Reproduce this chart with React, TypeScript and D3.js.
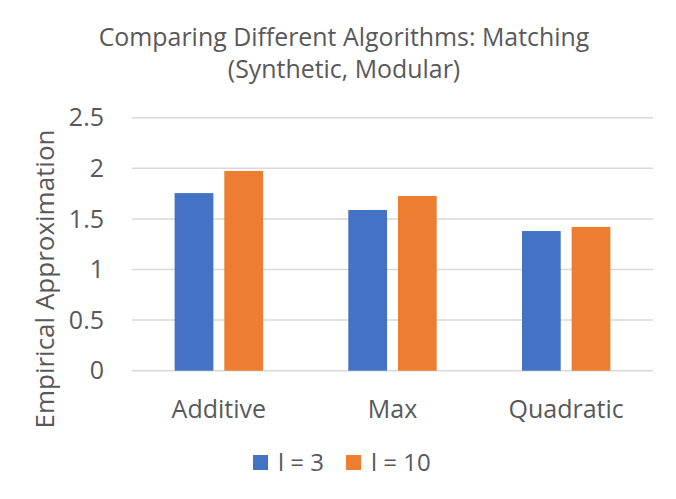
import React from "react";
import * as d3 from "d3";

const categories = ["Additive", "Max", "Quadratic"];
const seriesNames = ["l = 3", "l = 10"];
const seriesL3 = [1.755, 1.588, 1.38];
const seriesL10 = [1.973, 1.726, 1.42];
const yTicks = [0, 0.5, 1, 1.5, 2, 2.5];
const colors = ["#4472C4", "#ED7D31"];

const W = 676;
const H = 499;
const FONT = "'Open Sans', 'Segoe UI', sans-serif";
const TEXT = "#595959";

export default function App() {
  const left = 132;
  const right = 653;
  const top = 117.7;
  const bottom = 370.7;

  const x = d3.scaleBand<string>().domain(categories).range([left, right]).paddingInner(0).paddingOuter(0);
  const y = d3.scaleLinear().domain([0, 2.5]).range([bottom, top]);
  const bw = x.bandwidth();
  const barW = bw * 0.223;
  const gap = bw * 0.063;
  const groupW = barW * 2 + gap;
  const series = [seriesL3, seriesL10];

  return (
    <svg width={W} height={H} style={{ position: "absolute", left: 0, top: 0, background: "#fff" }}>
      <rect x={0} y={0} width={W} height={H} fill="#fff" />
      <text x={344} y={46} textAnchor="middle" fontFamily={FONT} fontSize={24.9} fill={TEXT}>
        Comparing Different Algorithms: Matching
      </text>
      <text x={344} y={78} textAnchor="middle" fontFamily={FONT} fontSize={24.9} fill={TEXT}>
        (Synthetic, Modular)
      </text>
      {yTicks.map((t) => (
        <g key={t}>
          <line x1={left} x2={right} y1={y(t)} y2={y(t)} stroke="#d9d9d9" strokeWidth={1.5} />
          <text x={104} y={y(t)} dy="0.35em" textAnchor="end" fontFamily={FONT} fontSize={25} fill={TEXT}>
            {String(t)}
          </text>
        </g>
      ))}
      {categories.map((c, i) => {
        const cx = (x(c) as number) + bw / 2;
        return (
          <g key={c}>
            {series.map((s, j) => (
              <rect
                key={j}
                x={cx - groupW / 2 + j * (barW + gap)}
                y={y(s[i])}
                width={barW}
                height={bottom - y(s[i])}
                fill={colors[j]}
              />
            ))}
            <text x={cx} y={418} textAnchor="middle" fontFamily={FONT} fontSize={25} fill={TEXT}>
              {c}
            </text>
          </g>
        );
      })}
      <text
        transform={`translate(54, 279) rotate(-90)`}
        textAnchor="middle"
        fontFamily={FONT}
        fontSize={26}
        fill={TEXT}
      >
        Empirical Approximation
      </text>
      {seriesNames.map((n, j) => {
        const lx = j === 0 ? 253 : 346;
        return (
          <g key={n}>
            <rect x={lx} y={455} width={15} height={15} fill={colors[j]} />
            <text x={lx + 25} y={471} fontFamily={FONT} fontSize={24} fill={TEXT}>
              {n}
            </text>
          </g>
        );
      })}
    </svg>
  );
}
